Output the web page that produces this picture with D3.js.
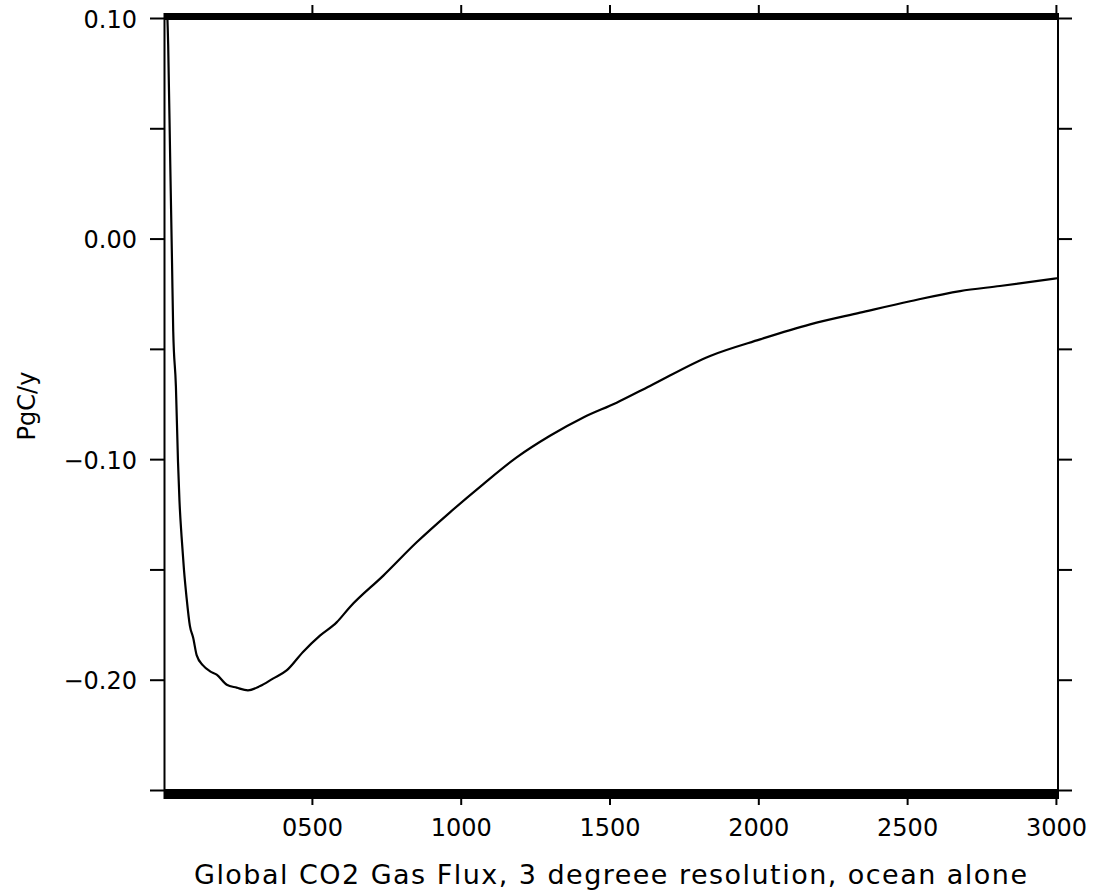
<!DOCTYPE html>
<html>
<head>
<meta charset="utf-8">
<script src="https://cdn.jsdelivr.net/npm/d3@7"></script>
<style>
  body { margin: 0; background: #fff; }
  text { font-family: "DejaVu Sans", sans-serif; fill: #000; }
</style>
</head>
<body>
<div class="chart"></div>
<script>
// model year and global flux (PgC/y)
var years = [10, 17, 24, 30, 34, 43, 50, 55, 62, 70, 79, 90, 101, 113, 134, 158, 180, 214, 247, 285,
  326, 369, 415, 470, 527, 583, 628, 740, 852, 964, 1076, 1188, 1300, 1412, 1524, 1636, 1838, 2006,
  2174, 2342, 2510, 2678, 2812, 3004];
var flux = [0.115, 0.088, 0.034, -0.011, -0.042, -0.067, -0.101, -0.119, -0.135, -0.150, -0.163,
  -0.1756, -0.181, -0.189, -0.1935, -0.1962, -0.1977, -0.2023, -0.2036, -0.2048, -0.2029, -0.1995,
  -0.1958, -0.1874, -0.180, -0.174, -0.167, -0.1528, -0.1377, -0.1241, -0.1113, -0.0992, -0.0894,
  -0.0811, -0.0744, -0.0668, -0.0532, -0.0457, -0.0389, -0.0336, -0.0284, -0.0238, -0.0215, -0.018];

var xTicks = [500, 1000, 1500, 2000, 2500, 3000];
var xTickLabels = ["0500", "1000", "1500", "2000", "2500", "3000"];
var yTicks = [0.10, 0.05, 0.00, -0.05, -0.10, -0.15, -0.20, -0.25];
var yTickLabels = ["0.10", "", "0.00", "", "\u22120.10", "", "\u22120.20", ""];

var svgWidth = 1105;
var svgHeight = 892;

// plot frame edges in pixels (note: "top" is taken by window.top)
var frame = { left: 164, right: 1058, top: 18, bottom: 790 };

var svg = d3.select(".chart")
  .append("svg")
  .attr("width", svgWidth)
  .attr("height", svgHeight);

var x = d3.scaleLinear().domain([3, 3007]).range([frame.left, frame.right]);
var y = d3.scaleLinear().domain([-0.25, 0.10]).range([frame.bottom, frame.top]);

// clip so the start of the curve doesn't run above the frame
svg.append("clipPath")
  .attr("id", "plotclip")
  .append("rect")
  .attr("x", frame.left)
  .attr("y", frame.top - 5)
  .attr("width", frame.right - frame.left)
  .attr("height", frame.bottom - frame.top + 5);

// frame sides
svg.append("line")
  .attr("x1", frame.left + 0.5).attr("x2", frame.left + 0.5)
  .attr("y1", 13).attr("y2", 799)
  .attr("stroke", "#000").attr("stroke-width", 2);
svg.append("line")
  .attr("x1", frame.right).attr("x2", frame.right)
  .attr("y1", 13).attr("y2", 799)
  .attr("stroke", "#000").attr("stroke-width", 2);

// heavy top and bottom edges
svg.append("rect")
  .attr("x", frame.left).attr("y", 13)
  .attr("width", frame.right - frame.left + 1).attr("height", 7)
  .attr("fill", "#000");
svg.append("rect")
  .attr("x", frame.left).attr("y", 789)
  .attr("width", frame.right - frame.left + 1).attr("height", 10)
  .attr("fill", "#000");

// bottom axis
var bottomAxis = d3.axisBottom(x)
  .tickValues(xTicks)
  .tickSize(6)
  .tickFormat(function(d, i) { return xTickLabels[i]; });

var xAxis = svg.append("g")
  .attr("transform", "translate(0, 799)")
  .call(bottomAxis);
xAxis.select(".domain").remove();
xAxis.selectAll(".tick line").attr("stroke", "#000").attr("stroke-width", 2);
xAxis.selectAll(".tick text")
  .attr("y", 37)
  .attr("dy", 0)
  .style("font-size", "24px");

// top ticks, no labels
var topAxis = d3.axisTop(x)
  .tickValues(xTicks)
  .tickSize(8)
  .tickFormat("");
var xTop = svg.append("g")
  .attr("transform", "translate(0, 13)")
  .call(topAxis);
xTop.select(".domain").remove();
xTop.selectAll(".tick line").attr("stroke", "#000").attr("stroke-width", 2);

// left axis
var leftAxis = d3.axisLeft(y)
  .tickValues(yTicks)
  .tickSize(14)
  .tickFormat(function(d, i) { return yTickLabels[i]; });
var yAxis = svg.append("g")
  .attr("transform", `translate(${frame.left}, 0)`)
  .call(leftAxis);
yAxis.select(".domain").remove();
yAxis.selectAll(".tick line").attr("stroke", "#000").attr("stroke-width", 2);
yAxis.selectAll(".tick text")
  .attr("x", -27)
  .attr("dy", "9px")
  .style("font-size", "24px");

// right axis
var rightAxis = d3.axisRight(y)
  .tickValues(yTicks)
  .tickSize(14)
  .tickFormat("");
var yRight = svg.append("g")
  .attr("transform", `translate(${frame.right}, 0)`)
  .call(rightAxis);
yRight.select(".domain").remove();
yRight.selectAll(".tick line").attr("stroke", "#000").attr("stroke-width", 2);

// the flux curve
var line = d3.line()
  .x(function(d, i) { return x(years[i]); })
  .y(function(d) { return y(d); })
  .curve(d3.curveMonotoneX);

svg.append("path")
  .datum(flux)
  .attr("clip-path", "url(#plotclip)")
  .attr("fill", "none")
  .attr("stroke", "#000")
  .attr("stroke-width", 2.2)
  .attr("stroke-linejoin", "round")
  .attr("d", line);

// axis titles
svg.append("text")
  .attr("x", 194)
  .attr("y", 884)
  .attr("textLength", 833)
  .attr("lengthAdjust", "spacing")
  .style("font-size", "27px")
  .text("Global CO2 Gas Flux, 3 degreee resolution, ocean alone");

svg.append("text")
  .attr("transform", "translate(35, 406) rotate(-90)")
  .attr("text-anchor", "middle")
  .style("font-size", "24px")
  .text("PgC/y");
</script>
</body>
</html>
